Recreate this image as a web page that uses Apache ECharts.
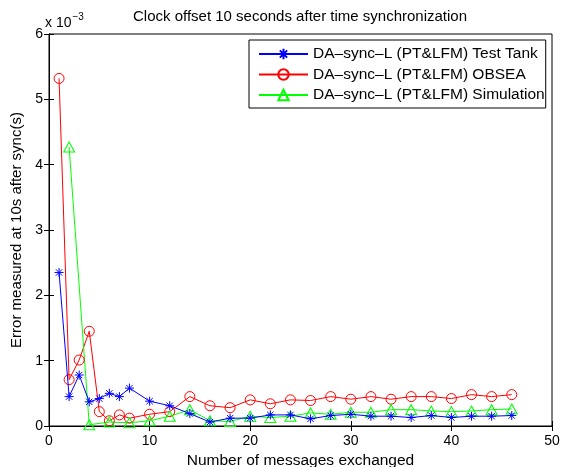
<!DOCTYPE html>
<html>
<head>
<meta charset="utf-8">
<script src="https://cdn.jsdelivr.net/npm/echarts@6/dist/echarts.min.js"></script>
<style>html,body{margin:0;padding:0;background:#fff}#c{width:563px;height:467px}</style>
</head>
<body>
<div id="c"></div>
<script>
// Values in units of 1e-3 s
const xTankObsea = [1, 2, 3, 4, 5, 6, 7, 8, 10, 12, 14, 16, 18, 20, 22, 24, 26, 28, 30, 32, 34, 36, 38, 40, 42, 44, 46];
const testTank = [2.35, 0.45, 0.78, 0.37, 0.42, 0.50, 0.45, 0.58, 0.38, 0.31, 0.19, 0.06, 0.12, 0.12, 0.17, 0.17, 0.11, 0.16, 0.18, 0.15, 0.15, 0.13, 0.16, 0.13, 0.15, 0.15, 0.16];
const obsea = [5.32, 0.71, 1.01, 1.45, 0.22, 0.08, 0.17, 0.12, 0.18, 0.22, 0.45, 0.31, 0.28, 0.40, 0.34, 0.40, 0.39, 0.45, 0.41, 0.45, 0.41, 0.45, 0.45, 0.42, 0.48, 0.45, 0.48];
const xSimulation = [2, 4, 6, 8, 10, 12, 14, 16, 18, 20, 22, 24, 26, 28, 30, 32, 34, 36, 38, 40, 42, 44, 46];
const simulation = [4.27, 0.02, 0.06, 0.05, 0.08, 0.15, 0.25, 0.08, 0.07, 0.15, 0.13, 0.15, 0.20, 0.18, 0.21, 0.21, 0.25, 0.25, 0.23, 0.22, 0.23, 0.25, 0.26];
const seriesNames = ['DA\u2013sync\u2013L (PT&LFM) Test Tank', 'DA\u2013sync\u2013L (PT&LFM) OBSEA', 'DA\u2013sync\u2013L (PT&LFM) Simulation'];
const titleText = 'Clock offset 10 seconds after time synchronization';
const xTicks = [0, 10, 20, 30, 40, 50];
const yTicks = [0, 1, 2, 3, 4, 5, 6];

const FONT = 'Liberation Sans, Arial, sans-serif';
const pair = (xs, ys) => xs.map((x, i) => [x, ys[i]]);
const asterisk = 'path://M5 0L5 10M0 5L10 5M1.5 1.5L8.5 8.5M1.5 8.5L8.5 1.5';

const chart = echarts.init(document.getElementById('c'), null, {renderer: 'canvas'});
const tickCommon = {inside: true, length: 5, lineStyle: {color: '#000', width: 1}};
chart.setOption({
  animation: false,
  backgroundColor: '#fff',
  graphic: [{
    type: 'text', x: 300, y: 17,
    style: {text: titleText, align: 'center', verticalAlign: 'middle',
      fontFamily: FONT, fontSize: 15, fill: '#000'}
  }, {
    type: 'text', left: 45, top: 12,
    style: {
      text: '{a|x 10}{b|\u22123}',
      rich: {
        a: {fontFamily: FONT, fontSize: 14, fill: '#000', padding: [6, 0, 0, 0]},
        b: {fontFamily: FONT, fontSize: 10, fill: '#000', padding: [0, 0, 6, 1]}
      }
    }
  }],
  legend: {
    orient: 'vertical', left: 249, top: 40,
    padding: [6, 1, 5, 9], itemGap: 4.5, itemWidth: 49, itemHeight: 13,
    backgroundColor: '#fff', borderColor: '#000', borderWidth: 1,
    textStyle: {fontFamily: FONT, fontSize: 15.5, color: '#000'},
    data: seriesNames
  },
  grid: {left: 49, right: 11, top: 34, bottom: 41, outerBoundsMode: 'none', containLabel: false,
    show: true, borderColor: '#000', borderWidth: 1, backgroundColor: 'transparent'},
  xAxis: [{
    type: 'value', min: 0, max: 50, interval: 10,
    name: 'Number of messages exchanged', nameLocation: 'middle', nameGap: 22,
    nameTextStyle: {fontFamily: FONT, fontSize: 15.5, color: '#000'},
    axisLine: {lineStyle: {color: '#000'}},
    axisTick: tickCommon,
    axisLabel: {fontFamily: FONT, fontSize: 14, color: '#000', margin: 8},
    splitLine: {show: false}
  }, {
    type: 'value', min: 0, max: 50, interval: 10, position: 'top',
    axisLine: {lineStyle: {color: '#000'}}, axisTick: tickCommon,
    axisLabel: {show: false}, splitLine: {show: false}
  }],
  yAxis: [{
    type: 'value', min: 0, max: 6, interval: 1,
    name: 'Error measured at 10s after sync(s)', nameLocation: 'middle', nameGap: 23,
    nameTextStyle: {fontFamily: FONT, fontSize: 15, color: '#000'},
    axisLine: {show: true, lineStyle: {color: '#000'}},
    axisTick: tickCommon,
    axisLabel: {fontFamily: FONT, fontSize: 14, color: '#000', margin: 6},
    splitLine: {show: false}
  }, {
    type: 'value', min: 0, max: 6, interval: 1, position: 'right',
    axisLine: {show: true, lineStyle: {color: '#000'}}, axisTick: tickCommon,
    axisLabel: {show: false}, splitLine: {show: false}
  }],
  series: [{
    name: seriesNames[0], type: 'line', data: pair(xTankObsea, testTank),
    symbol: asterisk, symbolSize: 9,
    lineStyle: {color: '#0000ff', width: 1},
    itemStyle: {color: 'rgba(0,0,0,0)', borderColor: '#0000ff', borderWidth: 1},
    z: 3
  }, {
    name: seriesNames[1], type: 'line', data: pair(xTankObsea, obsea),
    symbol: 'circle', symbolSize: 10,
    lineStyle: {color: '#ff0000', width: 1},
    itemStyle: {color: 'rgba(0,0,0,0)', borderColor: '#ff0000', borderWidth: 1},
    z: 2
  }, {
    name: seriesNames[2], type: 'line', data: pair(xSimulation, simulation),
    symbol: 'triangle', symbolSize: [11, 10],
    lineStyle: {color: '#00ff00', width: 1},
    itemStyle: {color: 'rgba(0,0,0,0)', borderColor: '#00ff00', borderWidth: 1},
    z: 2
  }]
});
</script>
</body>
</html>
